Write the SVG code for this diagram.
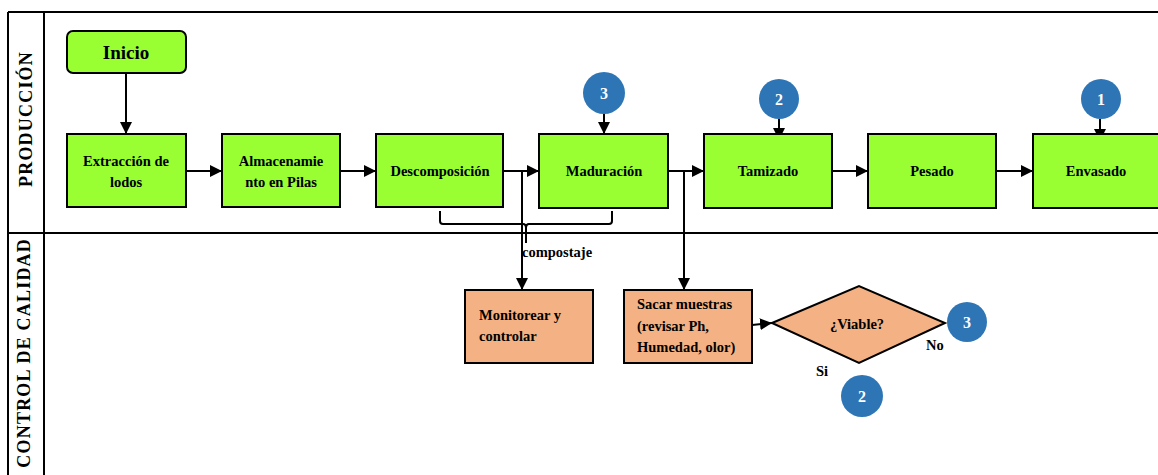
<svg xmlns="http://www.w3.org/2000/svg" width="1158" height="475" viewBox="0 0 1158 475">
<style>
.g{fill:#99FF33;stroke:#000;stroke-width:2}
.o{fill:#F4B183;stroke:#000;stroke-width:2}
.c{fill:#2E75B6}
.t{font-family:"Liberation Serif",serif;font-weight:bold;font-size:14.5px;fill:#000}
.m{text-anchor:middle}
.w{font-family:"Liberation Serif",serif;font-weight:bold;font-size:16px;fill:#fff;text-anchor:middle}
.ln{stroke:#000;stroke-width:2;fill:none}
.lane{font-family:"Liberation Serif",serif;font-weight:bold;font-size:18px;fill:#000;letter-spacing:1.2px}
</style>
<defs>
<marker id="a" viewBox="0 0 10 10" refX="10" refY="5" markerWidth="12" markerHeight="12" markerUnits="userSpaceOnUse" orient="auto">
<path d="M0,0L10,5L0,10z" fill="#000"/>
</marker>
</defs>
<g id="frame">
<path class="ln" d="M8,12H1158M8,233H1158M8,12V475M44,12V475"/>
<text class="lane" text-anchor="middle" transform="translate(32,119) rotate(-90)">PRODUCCIÓN</text>
<text class="lane" text-anchor="end" transform="translate(30,238) rotate(-90)">CONTROL DE CALIDAD</text>
</g>
<g id="connectors">
<path class="ln" marker-end="url(#a)" d="M126,73V134"/>
<path class="ln" marker-end="url(#a)" d="M186,171H222"/>
<path class="ln" marker-end="url(#a)" d="M340,171H376"/>
<path class="ln" marker-end="url(#a)" d="M503,171H539"/>
<path class="ln" marker-end="url(#a)" d="M522,171V290"/>
<path class="ln" marker-end="url(#a)" d="M668,171H704"/>
<path class="ln" marker-end="url(#a)" d="M684,171V290"/>
<path class="ln" marker-end="url(#a)" d="M832,171H868"/>
<path class="ln" marker-end="url(#a)" d="M996,171H1033"/>
<path class="ln" marker-end="url(#a)" d="M604,114V134"/>
<path class="ln" marker-end="url(#a)" d="M779,119V140"/>
<path class="ln" marker-end="url(#a)" d="M1100,119V141"/>
<path class="ln" marker-end="url(#a)" d="M752,325L772,323"/>
<path class="ln" stroke-width="1.5" d="M440,211V221Q440,224 443,224H523Q526,224 526,228V243M526,228Q526,224 529,224H609Q612,224 612,221V211"/>
<text class="t" x="522" y="257">compostaje</text>
<text class="t" x="926" y="350">No</text>
<text class="t" x="816" y="376">Si</text>
</g>
<g id="inicio">
<rect class="g" x="67" y="31" width="119" height="42" rx="6"/>
<text class="t m" x="126" y="59" style="font-size:19px">Inicio</text>
</g>
<g id="extraccion">
<rect class="g" x="67" y="134" width="119" height="73"/>
<text class="t m" x="126" y="166">Extracción de</text>
<text class="t m" x="126" y="187">lodos</text>
</g>
<g id="almacenamiento">
<rect class="g" x="222" y="134" width="118" height="73"/>
<text class="t m" x="281" y="166">Almacenamie</text>
<text class="t m" x="281" y="187">nto en Pilas</text>
</g>
<g id="descomposicion">
<rect class="g" x="376" y="134" width="127" height="73"/>
<text class="t m" x="440" y="176">Descomposición</text>
</g>
<g id="maduracion">
<rect class="g" x="539" y="134" width="129" height="74"/>
<text class="t m" x="604" y="176">Maduración</text>
</g>
<g id="tamizado">
<rect class="g" x="704" y="134" width="128" height="74"/>
<text class="t m" x="768" y="176">Tamizado</text>
</g>
<g id="pesado">
<rect class="g" x="868" y="134" width="128" height="74"/>
<text class="t m" x="932" y="176">Pesado</text>
</g>
<g id="envasado">
<rect class="g" x="1033" y="134" width="128" height="74"/>
<text class="t m" x="1096" y="176">Envasado</text>
</g>
<g id="c3top">
<circle class="c" cx="604" cy="93" r="21"/>
<text class="w" x="604" y="99">3</text>
</g>
<g id="c2top">
<circle class="c" cx="779" cy="99" r="20"/>
<text class="w" x="779" y="105">2</text>
</g>
<g id="c1top">
<circle class="c" cx="1101" cy="99" r="20"/>
<text class="w" x="1101" y="105">1</text>
</g>
<g id="monitorear">
<rect class="o" x="465" y="290" width="128" height="73"/>
<text class="t" x="479" y="320">Monitorear y</text>
<text class="t" x="479" y="341">controlar</text>
</g>
<g id="sacar">
<rect class="o" x="624" y="290" width="128" height="73"/>
<text class="t" x="637" y="309">Sacar muestras</text>
<text class="t" x="637" y="331">(revisar Ph,</text>
<text class="t" x="637" y="352">Humedad, olor)</text>
</g>
<g id="viable">
<path class="o" d="M772,323L859,286L945,323L859,363z"/>
<text class="t m" x="857" y="329">¿Viable?</text>
</g>
<g id="c3right">
<circle class="c" cx="967" cy="322" r="20"/>
<text class="w" x="967" y="328">3</text>
</g>
<g id="c2bottom">
<circle class="c" cx="862" cy="396" r="21"/>
<text class="w" x="862" y="402">2</text>
</g>
</svg>
